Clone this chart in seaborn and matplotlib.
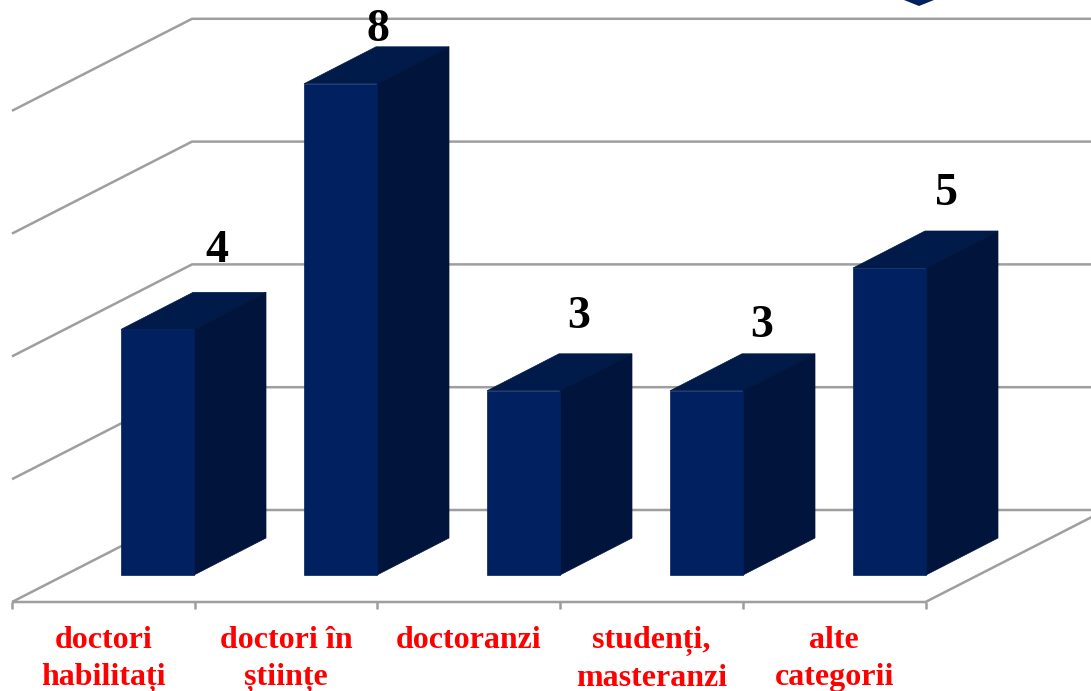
import matplotlib.pyplot as plt
import pandas as pd
import seaborn as sns
from matplotlib.patches import Polygon

categories = ['doctori\nhabilitați', 'doctori în\nștiințe', 'doctoranzi', 'studenți,\nmasteranzi', 'alte\ncategorii']
values = [4, 8, 3, 3, 5]
grid_levels = [0, 2, 4, 6, 8]

front_color = '#00205F'
side_color = '#00143C'
top_color = '#001A4A'
grid_color = '#9E9E9E'
label_red = '#FF0000'

# picture scale: pixels for one category / one unit
px_x = 183
px_y = 61.4
width, height = 1091, 691

sns.set_theme(style='white')
plt.rcParams['font.family'] = ['Liberation Serif', 'DejaVu Serif']

df = pd.DataFrame({'category': categories, 'value': values})

fig = plt.figure(figsize=(width / 100, height / 100), dpi=100, facecolor='white')
ax = fig.add_axes([0, 0, 1, 1])
sns.barplot(df, x='category', y='value', color=front_color, saturation=1, width=73 / px_x,
            edgecolor=front_color, linewidth=0.5, zorder=3, ax=ax)

ax.set_xlim(-157.5 / px_x, (width - 157.5) / px_x)
ax.set_ylim(-(height - 575) / px_y, 575 / px_y)
ax.axis('off')

# depth of the bars and of the floor
bar_dx, bar_dy = 72 / px_x, 37 / px_y
floor_dx, floor_dy = 180 / px_x, 92 / px_y
frame_left = -145.5 / px_x
frame_right = frame_left + len(categories) * 182.7 / px_x
floor_y = -27 / px_y

line_style = {'color': grid_color, 'lw': 1.8, 'solid_capstyle': 'butt', 'zorder': 1}
for level in grid_levels:
    y = floor_y + level
    ax.plot([frame_left, frame_left + floor_dx, ax.get_xlim()[1]],
            [y, y + floor_dy, y + floor_dy], **line_style)

ax.plot([frame_left, frame_right, frame_right + floor_dx],
        [floor_y, floor_y, floor_y + floor_dy], **line_style)
for i in range(len(categories) + 1):
    tick_x = frame_left + i * 182.7 / px_x
    ax.plot([tick_x, tick_x], [floor_y, floor_y - 7 / px_y], **line_style)

# side and top faces come from the bars seaborn drew
for bar in ax.patches[:len(values)]:
    x0, x1 = bar.get_x(), bar.get_x() + bar.get_width()
    top = bar.get_height()
    ax.add_patch(Polygon([(x0, top), (x0 + bar_dx, top + bar_dy), (x1 + bar_dx, top + bar_dy), (x1, top)],
                         fc=top_color, ec=top_color, lw=0.5, zorder=2.9))
    ax.add_patch(Polygon([(x1, 0), (x1 + bar_dx, bar_dy), (x1 + bar_dx, top + bar_dy), (x1, top)],
                         fc=side_color, ec=side_color, lw=0.5, zorder=2.95))

# value labels sit by hand in the original, so each has its own offset
label_offsets = [(59, 67), (37, 43), (55, 63), (55, 54), (57, 63)]
for i, (val, off) in enumerate(zip(values, label_offsets)):
    ax.annotate(str(val), (i, val), xytext=off, textcoords='offset pixels',
                ha='center', va='baseline', fontsize=33, fontweight='bold', color='black', zorder=4)

for i, name in enumerate(categories):
    ax.text(frame_left + (i + 0.5) * 182.7 / px_x, -51 / px_y, name, ha='center', va='top',
            fontsize=23, fontweight='bold', color=label_red, linespacing=1.37, zorder=4)

# corner of the slide ornament, cut off by the top edge
ax.add_patch(Polygon([((904 - 157.5) / px_x, 575 / px_y), ((934 - 157.5) / px_x, 575 / px_y),
                      ((919 - 157.5) / px_x, (575 - 6) / px_y)], fc=front_color, ec='none', zorder=2))

fig.savefig('out.png', dpi=100)
